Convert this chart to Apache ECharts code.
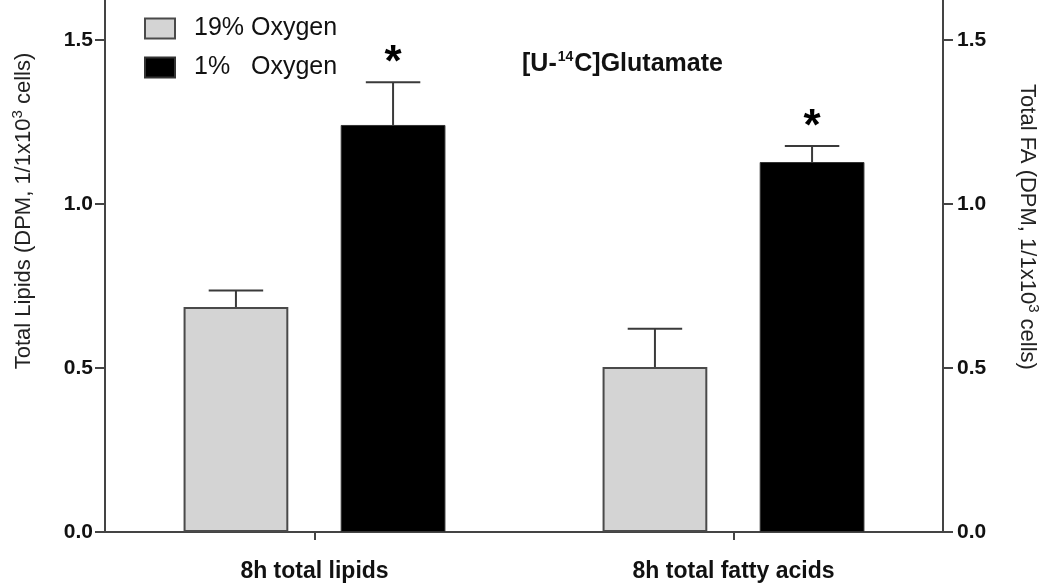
<!DOCTYPE html>
<html>
<head>
<meta charset="utf-8">
<script src="https://cdn.jsdelivr.net/npm/echarts@6/dist/echarts.min.js"></script>
<style>
  html, body { margin: 0; padding: 0; background: #fff; }
  #chart { width: 1050px; height: 585px; }
</style>
</head>
<body>
<div id="chart"></div>
<script>
// ---- Data ----
const categories = ['8h total lipids', '8h total fatty acids'];
const seriesNames = ['19% Oxygen', '1%   Oxygen'];
const normoxiaMean = [0.686, 0.503];
const normoxiaErr = [0.050, 0.117];
const normoxiaSig = [0, 0];
const hypoxiaMean = [1.241, 1.128];
const hypoxiaErr = [0.130, 0.049];
const hypoxiaSig = [1, 1];
const yTicks = [0, 0.5, 1.0, 1.5];
const yMax = 1.622;

const FONT = "'Liberation Sans', Arial, Helvetica, sans-serif";
const AXIS_COLOR = '#444';
const TEXT_COLOR = '#111';

const BAR_FRACTION = 0.25; // bar width as fraction of band
const BAR_GAP = 0.5;       // gap as fraction of bar width

function errorRenderer(side) {
  return function (params, api) {
    const cat = api.value(0);
    const mean = api.value(1);
    const err = api.value(2);
    const sig = api.value(3);
    const band = api.size([1, 0])[0];
    const barW = band * BAR_FRACTION;
    const offset = side * (barW / 2 + (barW * BAR_GAP) / 2);
    const base = api.coord([cat, mean]);
    const top = api.coord([cat, mean + err]);
    const x = base[0] + offset;
    const capHalf = barW * 0.26;
    const style = { stroke: '#3a3a3a', lineWidth: 2 };
    const children = [
      { type: 'line', shape: { x1: x, y1: base[1], x2: x, y2: top[1] }, style: style },
      { type: 'line', shape: { x1: x - capHalf, y1: top[1], x2: x + capHalf, y2: top[1] }, style: style }
    ];
    if (sig) {
      children.push({
        type: 'text',
        style: {
          text: '*', x: x, y: top[1] - 18,
          textAlign: 'center', textVerticalAlign: 'middle',
          font: 'bold 44px ' + FONT, fill: '#000'
        }
      });
    }
    return { type: 'group', children: children };
  };
}

const chart = echarts.init(document.getElementById('chart'), null, { renderer: 'canvas' });

const yAxisCommon = {
  type: 'value', min: 0, max: yMax,
  splitLine: { show: false },
  axisLine: { show: true, lineStyle: { color: AXIS_COLOR, width: 2 } },
  axisTick: { show: true, inside: false, length: 10, customValues: yTicks, lineStyle: { color: AXIS_COLOR, width: 2 } },
  axisLabel: {
    customValues: yTicks,
    formatter: v => v.toFixed(1),
    fontFamily: FONT, fontWeight: 'bold', fontSize: 21, color: TEXT_COLOR
  }
};

const supStyle = { fontSize: 15, fontFamily: FONT, verticalAlign: 'top', padding: [0, 0, 12, 0], fill: '#222' };

chart.setOption({
  animation: false,
  backgroundColor: '#fff',
  grid: { left: 105, right: 107, top: 0, bottom: 53, containLabel: false },
  title: {
    text: '[U-{sup|14}C]Glutamate',
    left: 517, top: 45,
    textStyle: {
      fontFamily: FONT, fontWeight: 'bold', fontSize: 25, color: TEXT_COLOR, lineHeight: 28,
      rich: {
        sup: { fontFamily: FONT, fontWeight: 'bold', fontSize: 14, verticalAlign: 'top', lineHeight: 28, color: TEXT_COLOR, padding: [0, 1, 12, 1] }
      }
    }
  },
  legend: {
    orient: 'vertical', left: 139, top: 11,
    itemWidth: 30, itemHeight: 20, itemGap: 14,
    icon: 'rect',
    textStyle: { fontFamily: FONT, fontSize: 25, lineHeight: 25, color: TEXT_COLOR, padding: [0, 0, 0, 14] },
    data: seriesNames
  },
  xAxis: {
    type: 'category', data: categories,
    axisLine: { show: true, lineStyle: { color: AXIS_COLOR, width: 2 } },
    axisTick: { show: true, alignWithLabel: true, length: 8, lineStyle: { color: AXIS_COLOR, width: 2 } },
    axisLabel: { fontFamily: FONT, fontWeight: 'bold', fontSize: 23, color: TEXT_COLOR, margin: 28 }
  },
  yAxis: [
    Object.assign({ position: 'left' }, yAxisCommon, { axisLabel: Object.assign({}, yAxisCommon.axisLabel, { margin: 12 }) }),
    Object.assign({ position: 'right' }, yAxisCommon, { axisLabel: Object.assign({}, yAxisCommon.axisLabel, { margin: 14 }) })
  ],
  graphic: [
    {
      type: 'text', x: 24, y: 211, rotation: Math.PI / 2,
      style: {
        text: 'Total Lipids (DPM, 1/1x10{sup|3} cells)',
        textAlign: 'center', textVerticalAlign: 'middle',
        font: '22px ' + FONT, fill: '#222',
        rich: { sup: supStyle }
      }
    },
    {
      type: 'text', x: 1027, y: 227, rotation: -Math.PI / 2,
      style: {
        text: 'Total FA (DPM, 1/1x10{sup|3} cells)',
        textAlign: 'center', textVerticalAlign: 'middle',
        font: '22px ' + FONT, fill: '#222',
        rich: { sup: supStyle }
      }
    }
  ],
  series: [
    {
      name: seriesNames[0], type: 'bar', yAxisIndex: 0,
      barWidth: (BAR_FRACTION * 100) + '%', barGap: (BAR_GAP * 100) + '%',
      itemStyle: { color: '#d4d4d4', borderColor: '#4a4a4a', borderWidth: 2 },
      data: normoxiaMean
    },
    {
      name: seriesNames[1], type: 'bar', yAxisIndex: 0,
      barWidth: (BAR_FRACTION * 100) + '%', barGap: (BAR_GAP * 100) + '%',
      itemStyle: { color: '#000', borderColor: '#333', borderWidth: 1 },
      data: hypoxiaMean
    },
    {
      type: 'custom', name: 'err0', yAxisIndex: 0, z: 5,
      renderItem: errorRenderer(-1),
      encode: { x: 0, y: 1 },
      data: categories.map((c, i) => [i, normoxiaMean[i], normoxiaErr[i], normoxiaSig[i]])
    },
    {
      type: 'custom', name: 'err1', yAxisIndex: 0, z: 5,
      renderItem: errorRenderer(1),
      encode: { x: 0, y: 1 },
      data: categories.map((c, i) => [i, hypoxiaMean[i], hypoxiaErr[i], hypoxiaSig[i]])
    }
  ]
});
</script>
</body>
</html>
